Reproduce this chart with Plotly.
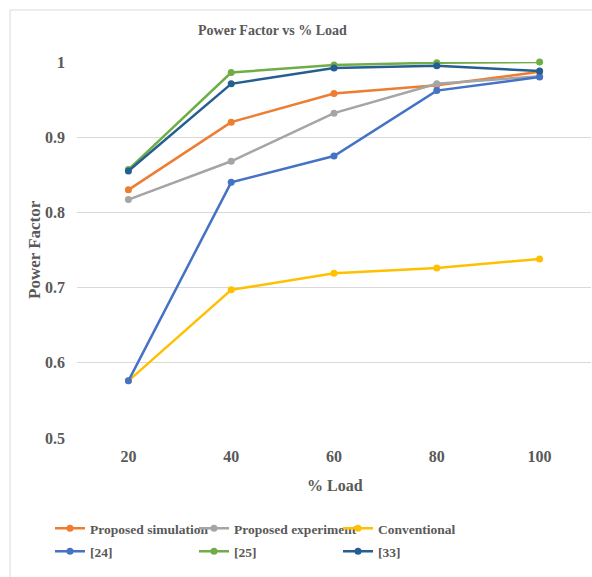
import plotly.graph_objects as go

loads = ["20", "40", "60", "80", "100"]
proposed_sim = [0.830, 0.920, 0.958, 0.969, 0.987]
proposed_exp = [0.817, 0.868, 0.932, 0.971, 0.981]
conventional = [0.576, 0.697, 0.719, 0.726, 0.738]
ref24 = [0.576, 0.840, 0.875, 0.962, 0.980]
ref25 = [0.857, 0.986, 0.996, 0.999, 1.000]
ref33 = [0.855, 0.971, 0.992, 0.995, 0.988]

series = [
    ("Proposed simulation", proposed_sim, "#ED7D31", "legend"),
    ("Proposed experiment", proposed_exp, "#A5A5A5", "legend"),
    ("Conventional", conventional, "#FFC000", "legend"),
    ("[24]", ref24, "#4472C4", "legend2"),
    ("[25]", ref25, "#70AD47", "legend2"),
    ("[33]", ref33, "#255E91", "legend2"),
]

yticks = [0.5, 0.6, 0.7, 0.8, 0.9, 1.0]
ytick_text = ["0.5", "0.6", "0.7", "0.8", "0.9", "1"]

FONT = "Liberation Serif, Times New Roman, serif"
GREY = "#595959"

fig = go.Figure()
for name, vals, col, leg in series:
    fig.add_trace(go.Scatter(
        x=loads, y=vals, name=name, mode="lines+markers",
        line=dict(color=col, width=2.5),
        marker=dict(color=col, size=7),
        cliponaxis=False, legend=leg,
    ))

W, H = 592, 577
L, R, T, B = 77, 1, 62, 139
pw = W - L - R
ph = H - T - B

def px_x(x):
    return (x - L) / pw

def px_y(y):
    return (H - B - y) / ph

def leg_cfg(top):
    return dict(
        orientation="h", x=px_x(50), y=px_y(top), xanchor="left", yanchor="top",
        entrywidth=99, entrywidthmode="pixels",
        font=dict(family=FONT, size=13.5, color=GREY, weight="bold"),
        itemwidth=30, tracegroupgap=0, bgcolor="rgba(0,0,0,0)",
    )

fig.update_layout(
    width=W, height=H,
    margin=dict(l=L, r=R, t=T, b=B),
    paper_bgcolor="white", plot_bgcolor="white",
    font=dict(family=FONT, color=GREY, size=16),
    showlegend=True,
    legend=leg_cfg(513),
    legend2=leg_cfg(536),
    xaxis=dict(
        type="category", range=[-0.5, 4.5],
        showgrid=False, zeroline=False, showline=False,
        ticks="", tickfont=dict(family=FONT, size=16, color=GREY, weight="bold"),
        ticklabelstandoff=7,
    ),
    yaxis=dict(
        range=[0.5, 1.0], tickvals=yticks, ticktext=ytick_text,
        showgrid=True, gridcolor="#D9D9D9", gridwidth=1,
        zeroline=False, showline=False, ticks="",
        tickfont=dict(family=FONT, size=16, color=GREY, weight="bold"),
        ticklabelstandoff=11,
    ),
    annotations=[
        dict(text="<b>Power Factor vs % Load</b>", xref="paper", yref="paper",
             x=px_x(272), y=px_y(30), showarrow=False, xanchor="center", yanchor="middle",
             font=dict(family=FONT, size=14, color=GREY)),
        dict(text="<b>Power Factor</b>", xref="paper", yref="paper",
             x=px_x(34), y=px_y(250), showarrow=False, textangle=-90,
             xanchor="center", yanchor="middle",
             font=dict(family=FONT, size=17, color=GREY)),
        dict(text="<b>% Load</b>", xref="paper", yref="paper",
             x=px_x(335), y=px_y(485), showarrow=False, xanchor="center", yanchor="middle",
             font=dict(family=FONT, size=16, color=GREY)),
    ],
    shapes=[
        dict(type="rect", xref="paper", yref="paper",
             x0=px_x(10), x1=px_x(620), y0=px_y(620), y1=px_y(10),
             line=dict(color="#D9D9D9", width=1), fillcolor="rgba(0,0,0,0)", layer="below"),
    ],
)

fig.write_html("out.html")
